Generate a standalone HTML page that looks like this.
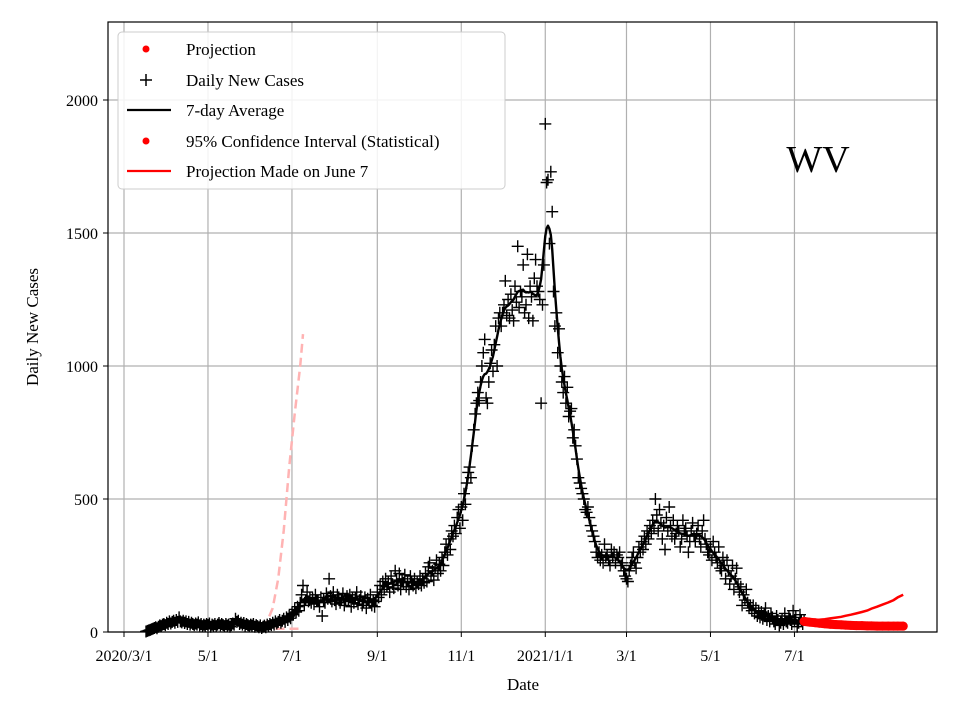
<!DOCTYPE html>
<html><head><meta charset="utf-8"><style>
html,body{margin:0;padding:0;background:#fff;}
svg{display:block;font-family:"Liberation Serif",serif;}
</style></head><body>
<svg id="chart" width="960" height="720" viewBox="0 0 960 720">
<rect width="960" height="720" fill="#fff"/>
<g id="grid"></g>
<g id="marks"></g>
<rect x="108" y="22" width="829" height="610" fill="none" stroke="#000" stroke-width="1.2"/>
<g id="axes"></g>
<text x="523" y="690" font-size="17" text-anchor="middle">Date</text>
<text x="38" y="327" font-size="17" text-anchor="middle" transform="rotate(-90 38 327)">Daily New Cases</text>
<text x="818" y="172" font-size="38" text-anchor="middle">WV</text>
<g>
<rect x="118" y="32" width="387" height="157" rx="4" fill="#fff" fill-opacity="0.85" stroke="#ccc"/>
<g><circle cx="146" cy="49" r="3.5" fill="red"/><text x="186" y="55" font-size="17">Projection</text></g>
<g><path d="M140 80h12M146 74v12" stroke="#000" stroke-width="1.5"/><text x="186" y="86" font-size="17">Daily New Cases</text></g>
<g><path d="M127 110h44" stroke="#000" stroke-width="2.2"/><text x="186" y="116" font-size="17">7-day Average</text></g>
<g><circle cx="146" cy="141" r="3.5" fill="red"/><text x="186" y="147" font-size="17">95% Confidence Interval (Statistical)</text></g>
<g><path d="M127 171h44" stroke="red" stroke-width="2.2"/><text x="186" y="177" font-size="17">Projection Made on June 7</text></g>
</g>
</svg>
<script>
const startDay = 16;
const dailyCases = [
2,4,6,8,10,12,15, 18,14,20,25,22,28,30, 26,35,30,40,32,38,42, 35,45,38,55,40,36,42,
34,40,30,38,28,35,30, 26,32,28,36,25,30,22, 28,24,30,26,32,20,28, 24,30,22,28,34,25,30,
26,22,30,24,28,20,26, 32,28,50,38,42,30,35, 28,34,24,30,26,22,28, 24,30,20,26,22,18,25,
15,20,24,18,28,22,30, 26,35,28,40,32,38,45, 35,42,50,38,55,45,60, 52,70,65,85,75,95,80,
110,140,175,100,120,150,115, 130,110,125,105,140,120,115, 95,130,60,120,110,145,125,
200,135,115,150,120,105,140, 130,110,125,145,100,120,135, 115,140,95,130,110,125,150,
105,120,135,100,115,130,90, 125,110,140,100,120,95,115, 150,130,175,140,190,160,200,
170,185,150,210,180,165,230, 195,175,220,160,200,185,215, 170,190,160,210,185,175,200,
165,190,180,210,175,200,185, 220,190,245,260,210,230,195, 240,270,220,255,230,280,250,
300,330,290,350,310,380,360, 400,370,430,460,390,470,420, 520,480,560,600,620,580,700,
760,820,860,900,870,940,1000, 1050,1100,880,860,940,1010,1060, 980,1080,1150,1000,1180,1200,1150,
1200,1230,1320,1190,1250,1180,1270, 1210,1170,1300,1240,1450,1220,1280, 1260,1380,1200,1230,1420,1180,1300,
1260,1170,1330,1400,1300,1280,1250, 860,1230,1380,1910,1690,1700,1460, 1730,1580,1280,1150,1200,1050,1140,
1000,940,900,960,860,920,810, 830,840,730,760,700,650,580, 560,540,520,500,460,450,470,
430,400,380,360,340,300,280, 300,270,290,260,330,280,290, 270,250,310,280,300,260,290,
280,300,250,260,230,210,200, 190,230,250,280,300,260,240, 280,320,300,340,310,360,330,
380,350,400,370,420,390,500, 440,380,460,410,350,400,310, 430,380,470,400,360,420,350,
370,400,380,320,350,420,380, 390,360,300,340,380,410,360, 340,370,400,350,320,380,420,
350,330,300,290,320,270,340, 300,280,260,320,240,230,280, 250,200,270,230,180,210,250,
160,200,240,180,150,170,100, 140,120,160,110,90,100,80, 100,70,90,60,80,55,75,
50,65,90,45,60,40,70, 55,40,30,60,45,25,35, 50,30,70,40,35,60,45, 30,80,40,55,20,35,65,
40,30,45];
const projDays = [494,498,502,505,509,513,517,521,524,528,532,536,540,543,547,551,555,559,562,566];
const projLow = [40,37,35,33,31,29,28,27,26,25,24,24,23,23,22,22,22,22,22,22];
const projHigh = [40,42,44,46,48,51,54,57,61,65,70,75,81,88,95,103,111,120,130,140];
const oldProjDays = [100,104,108,112,116,120,124,128,130];
const oldUpper = [15,40,90,200,380,620,820,1000,1120];
const oldLower = [20,15,12,12,12,12,12,12,12];
const yTicks = [0,500,1000,1500,2000];
const xTickDays = [0,61,122,184,245,306,365,426,487];
const xTickLabels = ["2020/3/1","5/1","7/1","9/1","11/1","2021/1/1","3/1","5/1","7/1"];

const NS = "http://www.w3.org/2000/svg";
const X = d => 124 + d * 1.3767;
const Y = v => 632 - v * 0.266;
function mk(tag, attrs, parent) {
  const e = document.createElementNS(NS, tag);
  for (const k in attrs) e.setAttribute(k, attrs[k]);
  parent.appendChild(e);
  return e;
}
const grid = document.getElementById('grid'), marks = document.getElementById('marks'), axes = document.getElementById('axes');
yTicks.forEach(v => {
  const l = mk('line', {x1:108, x2:937, y1:Y(v), y2:Y(v), stroke:'#b0b0b0', 'stroke-width':1.2}, grid);
  
  
  const t = mk('line', {x1:103, x2:108, y1:Y(v), y2:Y(v), stroke:'#000'}, axes);
  
  
  const tx = mk('text', {x:98, y:Y(v)+6, 'font-size':16, 'text-anchor':'end'}, axes);
  tx.textContent = v;
  
  
});
xTickDays.forEach((d, i) => {
  const l = mk('line', {x1:X(d), x2:X(d), y1:22, y2:632, stroke:'#b0b0b0', 'stroke-width':1.2}, grid);
  
  
  const t = mk('line', {x1:X(d), x2:X(d), y1:632, y2:637, stroke:'#000'}, axes);
  
  
  const tx = mk('text', {x:X(d), y:661, 'font-size':16, 'text-anchor':'middle'}, axes);
  tx.textContent = xTickLabels[i];
  
  
});
function pts(days, vals) { return days.map((d, i) => X(d).toFixed(1) + ',' + Y(vals[i]).toFixed(1)).join(' '); }
[oldUpper, oldLower].forEach(arr => {
  const p = mk('polyline', {points: pts(oldProjDays, arr), fill:'none', stroke:'#ffb3b3', 'stroke-width':2.5, 'stroke-dasharray':'9,5'}, marks);
  
  
});
let dpath = '';
dailyCases.forEach((v, i) => {
  const x = X(startDay + i), y = Y(v);
  dpath += `M${(x-6).toFixed(1)} ${y.toFixed(1)}h12M${x.toFixed(1)} ${(y-6).toFixed(1)}v12`;
});
const dp = mk('path', {d: dpath, stroke:'#000', 'stroke-width':1.4, fill:'none'}, marks);


function smooth(arr) {
  const out = [];
  for (let i = 0; i < arr.length; i++) {
    let s = 0, n = 0;
    for (let k = -3; k <= 3; k++) { const j = i + k; if (j >= 0 && j < arr.length) { s += arr[j]; n++; } }
    out.push(s / n);
  }
  return out;
}
const avgVals = smooth(smooth(dailyCases));
const avgDays = avgVals.map((v, i) => startDay + i);
const ap = mk('polyline', {points: pts(avgDays, avgVals), fill:'none', stroke:'#000', 'stroke-width':2.4, 'stroke-linejoin':'round'}, marks);


const hp = mk('polyline', {points: pts(projDays, projHigh), fill:'none', stroke:'red', 'stroke-width':2.5}, marks);


const lp = mk('polyline', {points: pts(projDays, projLow), fill:'none', stroke:'red', 'stroke-width':9, 'stroke-linecap':'round'}, marks);


projDays.forEach((d, i) => {
  const c = mk('circle', {cx:X(d), cy:Y(projLow[i]), r:4.5, fill:'red'}, marks);
  
  
});
</script>
</body></html>
